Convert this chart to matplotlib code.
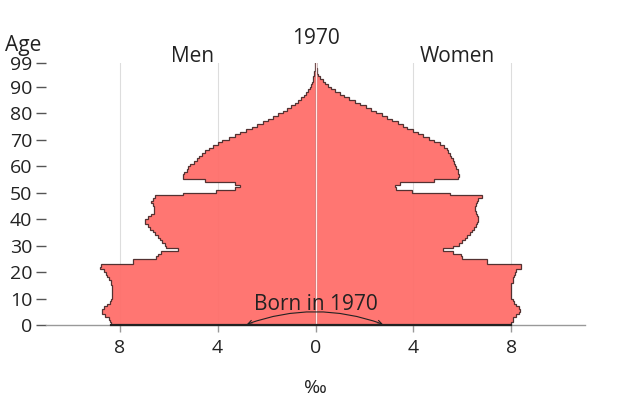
import matplotlib
matplotlib.use("Agg")
import matplotlib.pyplot as plt
from matplotlib.patches import FancyArrowPatch
import numpy as np

plt.rcParams['font.family'] = ['Open Sans', 'DejaVu Sans']

year = "1970"
ages = np.arange(0, 100)

# per mille of total population, ages 0..99
men = [8.35, 8.4, 8.45, 8.6, 8.7, 8.7, 8.65, 8.5, 8.4, 8.35,
       8.3, 8.3, 8.3, 8.3, 8.3, 8.35, 8.35, 8.45, 8.5, 8.55,
       8.65, 8.8, 8.75, 7.45, 7.45, 6.5, 6.45, 6.3, 5.6, 6.1,
       6.15, 6.25, 6.35, 6.45, 6.55, 6.65, 6.75, 6.85, 6.95, 6.95,
       6.85, 6.7, 6.6, 6.6, 6.6, 6.65, 6.7, 6.65, 6.55, 5.4,
       4.05, 3.3, 3.1, 3.3, 4.5, 5.4, 5.4, 5.35, 5.25, 5.2,
       5.12, 4.95, 4.85, 4.75, 4.65, 4.5, 4.35, 4.2, 4.0, 3.8,
       3.55, 3.3, 3.1, 2.85, 2.6, 2.4, 2.15, 1.95, 1.75, 1.52,
       1.32, 1.15, 1.0, 0.85, 0.72, 0.58, 0.47, 0.38, 0.3, 0.24,
       0.19, 0.15, 0.12, 0.1, 0.08, 0.06, 0.04, 0.03, 0.02, 0.01]
women = [8.0, 8.05, 8.05, 8.2, 8.3, 8.35, 8.3, 8.2, 8.1, 8.05,
         8.0, 8.0, 8.0, 8.0, 8.0, 8.0, 8.05, 8.05, 8.1, 8.15,
         8.2, 8.4, 8.4, 7.0, 7.0, 6.0, 5.95, 5.6, 5.2, 5.6,
         5.85, 6.0, 6.1, 6.2, 6.3, 6.4, 6.45, 6.55, 6.6, 6.65,
         6.65, 6.6, 6.55, 6.5, 6.5, 6.55, 6.6, 6.65, 6.8, 5.5,
         3.95, 3.3, 3.25, 3.45, 4.85, 5.8, 5.85, 5.8, 5.8, 5.75,
         5.7, 5.65, 5.6, 5.55, 5.5, 5.42, 5.35, 5.25, 5.1, 4.85,
         4.62, 4.4, 4.18, 3.98, 3.75, 3.56, 3.35, 3.13, 2.92, 2.7,
         2.48, 2.27, 2.05, 1.82, 1.6, 1.38, 1.18, 0.98, 0.78, 0.62,
         0.5, 0.4, 0.3, 0.2, 0.12, 0.08, 0.06, 0.04, 0.02, 0.0]

yticks = [0, 10, 20, 30, 40, 50, 60, 70, 80, 90, 99]
xticks = [-8, -4, 0, 4, 8]
xticklabels = ["8", "4", "0", "4", "8"]

fill_col = '#ff6f6a'
edge_col = '#4a2a2a'
text_col = '#222222'


def stepped(vals):
    # outline of one side of the pyramid, one bar per year of age
    v = np.asarray(vals)
    xs = np.concatenate([[0], np.repeat(v, 2), [0]])
    ys = np.concatenate([[0], np.column_stack([ages, ages + 1]).ravel(), [ages[-1] + 1]])
    return xs, ys


fig = plt.figure(figsize=(6.4, 4), dpi=100)
ax = fig.add_axes([0.072, 0.1875, 0.842, 0.655])

for x in [-8, -4, 4, 8]:
    ax.axvline(x, color='#dddddd', lw=0.8, zorder=0)

xm, ym = stepped(men)
xw, yw = stepped(women)
ax.fill(-xm, ym, fc=fill_col, ec=edge_col, lw=0.9, alpha=0.95, zorder=2)
ax.fill(xw, yw, fc=fill_col, ec=edge_col, lw=0.9, alpha=0.95, zorder=2)
ax.axvline(0, color='#ffe8e8', lw=1.0, zorder=3)
ax.plot([-men[0], women[0]], [0, 0], color='#222222', lw=1.6, zorder=4, clip_on=False)

ax.set_xlim(-11, 11)
ax.set_ylim(0, 99)

for s in ['top', 'right', 'left']:
    ax.spines[s].set_visible(False)
ax.spines['bottom'].set_color('#999999')
ax.spines['bottom'].set_linewidth(1.0)

ax.set_yticks(yticks)
ax.set_yticklabels([str(t) for t in yticks])
ax.set_xticks(xticks)
ax.set_xticklabels(xticklabels)
ax.tick_params(axis='y', length=7, width=1, color='#555555', labelsize=14,
               labelcolor=text_col, pad=3)
ax.tick_params(axis='x', length=5, width=1, color='#999999', labelsize=14,
               labelcolor=text_col, pad=5)

ax.set_xlabel("‰", fontsize=14, color=text_col, labelpad=16)

fig.text(0.493, 0.905, year, ha='center', va='center', fontsize=15, color=text_col)
ax.text(-5.0, 101.5, "Men", ha='center', va='center', fontsize=15, color=text_col)
ax.text(5.8, 101.5, "Women", ha='center', va='center', fontsize=15, color=text_col)
fig.text(0.036, 0.885, "Age", ha='center', va='center', fontsize=15, color=text_col)

ax.text(0, 7.6, "Born in " + year, ha='center', va='center', fontsize=15, color=text_col, zorder=6)
arc = FancyArrowPatch((-2.8, 0.3), (2.75, 0.3), connectionstyle="arc3,rad=-0.18",
                      arrowstyle='<->,head_length=3,head_width=1.5', color='#222222',
                      lw=0.8, zorder=6, shrinkA=0, shrinkB=0)
ax.add_patch(arc)

fig.savefig("out.png", dpi=100)
